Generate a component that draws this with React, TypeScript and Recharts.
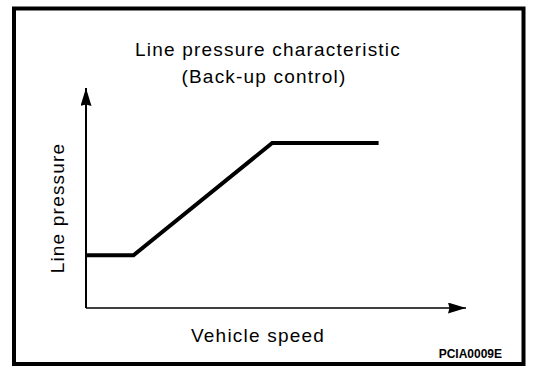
import { LineChart, Line, XAxis, YAxis, ReferenceLine } from 'recharts'

// vehicle speed (arbitrary units) and line pressure (arbitrary units)
const speed = [0, 12.5, 49, 77]
const pressure = [24, 24, 75, 75]

const TITLE = ['Line pressure characteristic', '(Back-up control)']
const X_LABEL = 'Vehicle speed'
const Y_LABEL = 'Line pressure'
const CODE = 'PCIA0009E'

const data = speed.map((s, i) => ({ speed: s, pressure: pressure[i] }))

const FONT = '"Liberation Sans", Arial, Helvetica, sans-serif'

const arrowLine = (w: number) => (p: any) => (
  <line
    x1={p.x1}
    y1={p.y1}
    x2={p.x2}
    y2={p.y2}
    stroke="#000"
    strokeWidth={w}
    markerEnd="url(#arrow)"
  />
)

const labelStyle = { fontFamily: FONT, fontSize: 19, letterSpacing: 1.2, fill: '#000' }

export default function App() {
  return (
    <div style={{ width: 560, height: 376, background: '#fff' }}>
      <style>{'body{margin:0}'}</style>
      <LineChart
        width={560}
        height={376}
        data={data}
        margin={{ top: 88, right: 94, bottom: 68, left: 86 }}
      >
        <defs>
          <marker
            id="arrow"
            viewBox="0 0 18 11"
            refX={18}
            refY={5.5}
            markerWidth={18}
            markerHeight={11}
            markerUnits="userSpaceOnUse"
            orient="auto"
          >
            <path d="M0,0 L18,5.5 L0,11 L1.5,5.5 Z" fill="#000" />
          </marker>
        </defs>

        {/* frame */}
        <rect x={14} y={8.5} width={509.5} height={355.5} fill="none" stroke="#000" strokeWidth={4} />

        <XAxis type="number" dataKey="speed" domain={[0, 100]} hide />
        <YAxis type="number" domain={[0, 100]} hide />

        <ReferenceLine
          segment={[{ x: 0, y: 0 }, { x: 100, y: 0 }]}
          ifOverflow="visible"
          shape={arrowLine(1.3)}
        />
        <ReferenceLine
          segment={[{ x: 0, y: 0 }, { x: 0, y: 100 }]}
          ifOverflow="visible"
          shape={arrowLine(2)}
        />

        <Line
          type="linear"
          dataKey="pressure"
          stroke="#000"
          strokeWidth={4}
          dot={false}
          isAnimationActive={false}
        />

        <text x={268} y={56} textAnchor="middle" style={labelStyle}>
          {TITLE[0]}
        </text>
        <text x={264} y={83} textAnchor="middle" style={labelStyle}>
          {TITLE[1]}
        </text>
        <text x={64} y={208} textAnchor="middle" transform="rotate(-90, 64, 208)" style={labelStyle}>
          {Y_LABEL}
        </text>
        <text x={258} y={342} textAnchor="middle" style={labelStyle}>
          {X_LABEL}
        </text>
        <text x={502} y={358} textAnchor="end" fontFamily={FONT} fontSize={12} fontWeight="bold" fill="#000">
          {CODE}
        </text>
      </LineChart>
    </div>
  )
}
